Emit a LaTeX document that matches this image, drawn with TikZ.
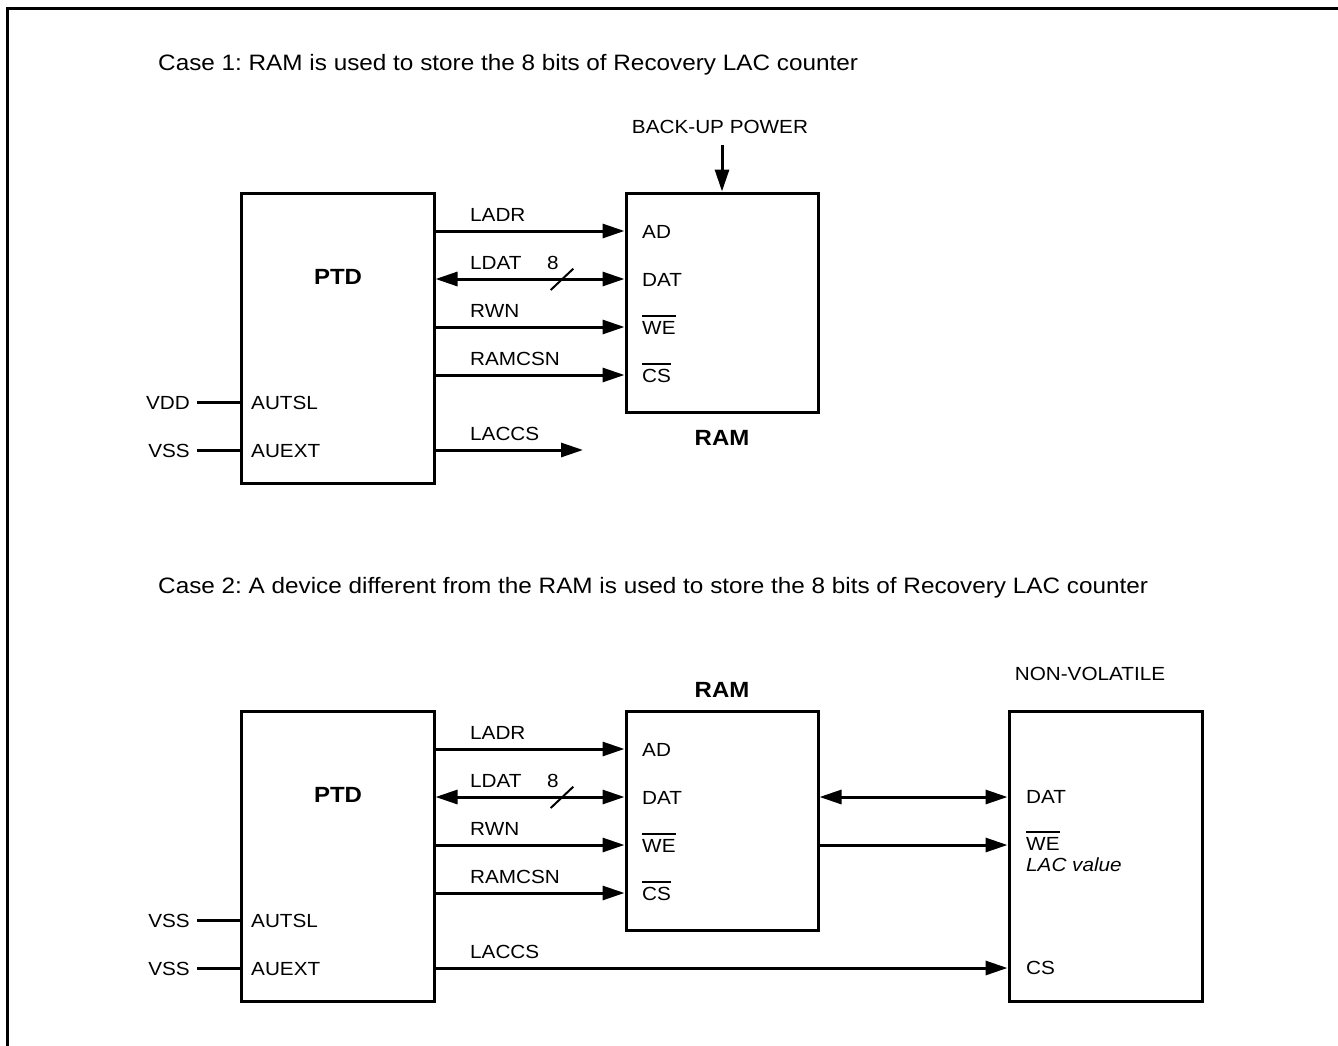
\documentclass[tikz,border=0pt]{standalone}
\usepackage{fontspec}
\setmainfont[FakeStretch=1.09]{Liberation Sans}
\usetikzlibrary{arrows.meta}
\newsavebox\ovlbox
\newcommand\ovl[1]{\sbox\ovlbox{#1}\rlap{\rule[\dimexpr\ht\ovlbox+4pt\relax]{\wd\ovlbox}{1.8pt}}\usebox\ovlbox}
\frenchspacing
\begin{document}
\begin{tikzpicture}[x=1pt,y=-1pt,
  box/.style={draw,line width=3pt,minimum width=193pt,inner sep=0pt},
  tipA/.tip={Triangle[length=22pt,width=14pt]},
  sig/.style={line width=3pt,-tipA},
  bus/.style={line width=3pt,tipA-tipA},
  wire/.style={line width=3pt},
  lbl/.style={anchor=base west,inner sep=0pt,font=\fontsize{19}{22}\selectfont},
  hdr/.style={anchor=base west,inner sep=0pt,font=\fontsize{22.3}{26}\selectfont},
  lblc/.style={anchor=base,inner sep=0pt,font=\fontsize{19}{22}\selectfont},
  lble/.style={anchor=base east,inner sep=0pt,font=\fontsize{19}{22}\selectfont},
  ttl/.style={anchor=base,inner sep=0pt,font=\fontsize{22}{26}\selectfont\bfseries}]
\useasboundingbox (0,0) rectangle (1338,1046);
% frame
\draw[line width=3pt] (7.5,1050) -- (7.5,9) -- (1340,9);

% ===== Case 1 =====
\node[hdr] (c1) at (158,71) {Case 1: RAM is used to store the 8 bits of Recovery LAC counter};
\node[box,minimum height=290pt] (ptdA) at (337.5,338) {};
\node[box,minimum width=192pt,minimum height=219pt] (ramA) at (722,302.5) {};
\node[ttl] (ptdAt) at (338,284) {PTD};
\node[ttl] (ramAt) at (722,445) {RAM};
\node[lblc] (bup) at (720,134) {BACK-UP POWER};
\coordinate (bupA) at (722,145);
\draw[sig] (bupA) -- (ramA.north -| bupA);

\coordinate (rA1) at (0,231);
\coordinate (rA2) at (0,279);
\coordinate (rA3) at (0,327);
\coordinate (rA4) at (0,375);
\coordinate (rA5) at (0,450);
\coordinate (laccsA) at (583,450);

\draw[sig] (ptdA.east |- rA1) -- (ramA.west |- rA1);
\draw[bus] (ptdA.east |- rA2) -- (ramA.west |- rA2);
\draw[sig] (ptdA.east |- rA3) -- (ramA.west |- rA3);
\draw[sig] (ptdA.east |- rA4) -- (ramA.west |- rA4);
\draw[sig] (ptdA.east |- rA5) -- (laccsA);
\draw[line width=2pt] (550.7,290) -- (573.3,268.7);

\node[lbl] (ladrA) at (470,221.5) {LADR};
\node[lbl] (ldatA) at (470,269.5) {LDAT};
\node[lblc] (eightA) at (553,269.5) {8};
\node[lbl] (rwnA) at (470,317.5) {RWN};
\node[lbl] (ramcsnA) at (470,365.5) {RAMCSN};
\node[lbl] (laccsAt) at (470,440.5) {LACCS};

\node[lbl] (adA) at (642,238) {AD};
\node[lbl] (datA) at (642,286) {DAT};
\node[lbl] (weA) at (642,334) {\ovl{WE}};
\node[lbl] (csA) at (642,382) {\ovl{CS}};

\node[lbl] (autslA) at (251,409) {AUTSL};
\node[lbl] (auextA) at (251,457) {AUEXT};
\node[lble] (vddA) at (190,409) {VDD};
\node[lble] (vssA) at (190,457) {VSS};
\coordinate (vddAe) at (197,402);
\coordinate (vssAe) at (197,450);
\draw[wire] (vddAe) -- (ptdA.west |- vddAe);
\draw[wire] (vssAe) -- (ptdA.west |- vssAe);

% ===== Case 2 =====
\node[hdr] (c2) at (158,593) {Case 2: A device different from the RAM is used to store the 8 bits of Recovery LAC counter};
\node[box,minimum height=290pt] (ptdB) at (337.5,856) {};
\node[box,minimum width=192pt,minimum height=219pt] (ramB) at (722,820.5) {};
\node[box,minimum height=290pt] (nv) at (1105.5,856) {};
\node[ttl] (ptdBt) at (338,802) {PTD};
\node[ttl] (ramBt) at (722,697) {RAM};
\node[lblc] (nvt) at (1090,680) {NON-VOLATILE};

\coordinate (rB1) at (0,749);
\coordinate (rB2) at (0,797);
\coordinate (rB3) at (0,845);
\coordinate (rB4) at (0,893);
\coordinate (rB5) at (0,968);

\draw[sig] (ptdB.east |- rB1) -- (ramB.west |- rB1);
\draw[bus] (ptdB.east |- rB2) -- (ramB.west |- rB2);
\draw[sig] (ptdB.east |- rB3) -- (ramB.west |- rB3);
\draw[sig] (ptdB.east |- rB4) -- (ramB.west |- rB4);
\draw[sig] (ptdB.east |- rB5) -- (nv.west |- rB5);
\draw[bus] (ramB.east |- rB2) -- (nv.west |- rB2);
\draw[sig] (ramB.east |- rB3) -- (nv.west |- rB3);
\draw[line width=2pt] (550.7,808) -- (573.3,786.7);

\node[lbl] (ladrB) at (470,739.5) {LADR};
\node[lbl] (ldatB) at (470,787.5) {LDAT};
\node[lblc] (eightB) at (553,787.5) {8};
\node[lbl] (rwnB) at (470,835.5) {RWN};
\node[lbl] (ramcsnB) at (470,883.5) {RAMCSN};
\node[lbl] (laccsBt) at (470,958.5) {LACCS};

\node[lbl] (adB) at (642,756) {AD};
\node[lbl] (datB) at (642,804) {DAT};
\node[lbl] (weB) at (642,852) {\ovl{WE}};
\node[lbl] (csB) at (642,900) {\ovl{CS}};

\node[lbl] (datN) at (1026,803) {DAT};
\node[lbl] (weN) at (1026,850) {\ovl{WE}};
\node[lbl] (lacN) at (1026,871) {\itshape LAC value};
\node[lbl] (csN) at (1026,974) {CS};

\node[lbl] (autslB) at (251,927) {AUTSL};
\node[lbl] (auextB) at (251,975) {AUEXT};
\node[lble] (vssB1) at (190,927) {VSS};
\node[lble] (vssB2) at (190,975) {VSS};
\coordinate (vssB1e) at (197,920);
\coordinate (vssB2e) at (197,968);
\draw[wire] (vssB1e) -- (ptdB.west |- vssB1e);
\draw[wire] (vssB2e) -- (ptdB.west |- vssB2e);
\end{tikzpicture}
\end{document}
